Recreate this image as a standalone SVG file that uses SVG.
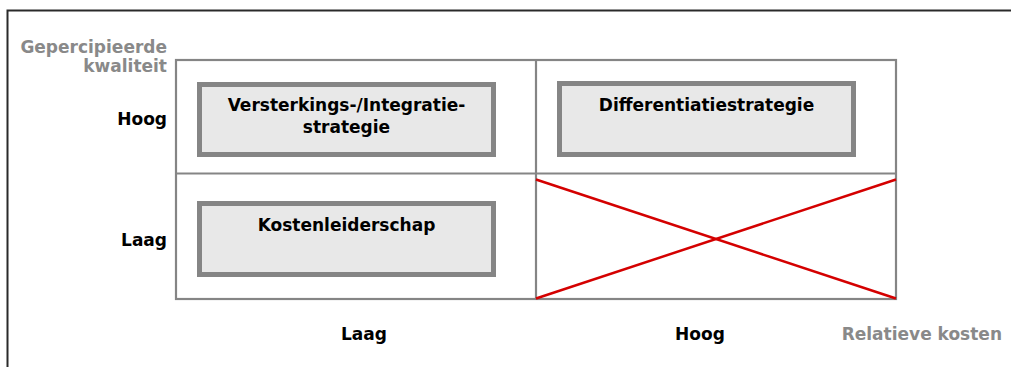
<svg xmlns="http://www.w3.org/2000/svg" width="1011" height="367" viewBox="0 0 1011 367">
<style>
text{font-family:"DejaVu Sans",Verdana,sans-serif;font-weight:bold;font-size:17px;fill:#000}
.ax{fill:#898989}
.grid{stroke:#858585;stroke-width:2.2;fill:none}
.box{fill:#e8e8e8;stroke:#858585;stroke-width:5}
.x{stroke:#d40000;stroke-width:2.5}
</style>
<rect width="1011" height="367" fill="#fff"/>
<path d="M7.5 367V10.5H1011" fill="none" stroke="#2a2a2a" stroke-width="2"/>
<g id="axis-labels">
<text class="ax" x="167" y="53" text-anchor="end">Gepercipieerde</text>
<text class="ax" x="167" y="72" text-anchor="end">kwaliteit</text>
<text x="167" y="125" text-anchor="end">Hoog</text>
<text x="167" y="246" text-anchor="end">Laag</text>
<text x="364" y="340" text-anchor="middle">Laag</text>
<text x="700" y="340" text-anchor="middle">Hoog</text>
<text class="ax" x="1002" y="340" text-anchor="end">Relatieve kosten</text>
</g>
<g id="grid">
<rect class="grid" x="176" y="60" width="720" height="239"/>
<line class="grid" x1="176" y1="173.5" x2="896" y2="173.5"/>
<line class="grid" x1="536" y1="60" x2="536" y2="299"/>
</g>
<g id="connectors">
<line class="x" x1="536" y1="179.5" x2="896" y2="298.5"/>
<line class="x" x1="536" y1="298.5" x2="896" y2="179.5"/>
</g>
<g id="node-integratie">
<rect class="box" x="199.5" y="84.5" width="294" height="70"/>
<text x="346.5" y="111" text-anchor="middle">Versterkings-/Integratie-</text>
<text x="346.5" y="133" text-anchor="middle">strategie</text>
</g>
<g id="node-differentiatie">
<rect class="box" x="559.5" y="83.5" width="294" height="71"/>
<text x="706.5" y="111" text-anchor="middle">Differentiatiestrategie</text>
</g>
<g id="node-kosten">
<rect class="box" x="199.5" y="203.5" width="294" height="71"/>
<text x="346.5" y="231" text-anchor="middle">Kostenleiderschap</text>
</g>
</svg>
